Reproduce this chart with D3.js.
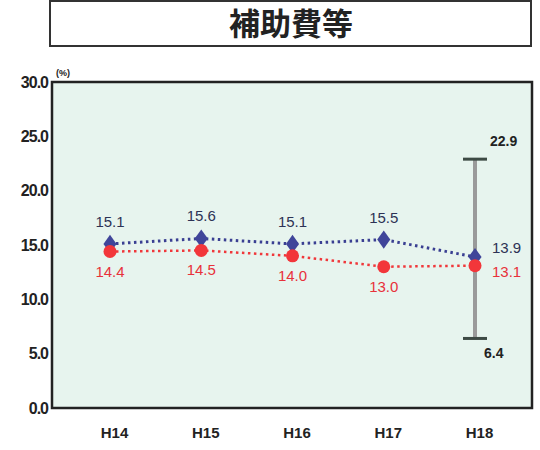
<!DOCTYPE html>
<html><head><meta charset="utf-8">
<script src="https://cdn.jsdelivr.net/npm/d3@7/dist/d3.min.js"></script>
<style>body{margin:0;background:#fff;}svg{display:block;}</style>
</head><body>
<svg id="c" width="540" height="450"></svg>
<script>
const title = "補助費等";
const categories = ["H14","H15","H16","H17","H18"];
const seriesBlue = [15.1, 15.6, 15.1, 15.5, 13.9];
const seriesRed = [14.4, 14.5, 14.0, 13.0, 13.1];
const rangeCategory = "H18";
const rangeValues = [6.4, 22.9];
const yTicks = [0, 5, 10, 15, 20, 25, 30];
const unitLabel = "(%)";

const svg = d3.select("#c");
const font = "Liberation Sans, Arial, sans-serif";
const plot = {left: 52, right: 532, top: 82, bottom: 408};

// title box
svg.append("rect").attr("x", 50).attr("y", 1).attr("width", 481).attr("height", 45)
  .attr("fill", "#fff").attr("stroke", "#333").attr("stroke-width", 2);
svg.append("text").attr("x", 291).attr("y", 35).attr("text-anchor", "middle")
  .attr("font-family", "Noto Sans CJK JP, sans-serif").attr("font-weight", "bold")
  .attr("font-size", 31).attr("fill", "#222").text(title);

const y = d3.scaleLinear().domain([0, 30]).range([plot.bottom, plot.top]);
const x = d3.scalePoint().domain(categories).range([110, 475]);

svg.append("rect").attr("x", plot.left).attr("y", plot.top)
  .attr("width", plot.right - plot.left).attr("height", plot.bottom - plot.top)
  .attr("fill", "#e7f4ee");

// y axis labels
const yAxis = d3.axisLeft(y).tickValues(yTicks).tickFormat(d3.format(".1f")).tickSize(0).tickPadding(4);
const ga = svg.append("g").attr("transform", `translate(${plot.left},0)`).call(yAxis);
ga.select(".domain").remove();
ga.selectAll("text").attr("font-family", font).attr("font-size", 16).attr("font-weight", "bold")
  .attr("fill", "#222").attr("letter-spacing", "-1");

svg.append("text").attr("x", 56).attr("y", 76).attr("font-family", font).attr("font-size", 9)
  .attr("font-weight", "bold").attr("fill", "#222").text(unitLabel);

// x axis labels
const xAxis = d3.axisBottom(x).tickSize(0).tickPadding(19);
const gx = svg.append("g").attr("transform", `translate(0,${plot.bottom})`).call(xAxis);
gx.select(".domain").remove();
gx.selectAll("text").attr("font-family", font).attr("font-size", 15).attr("font-weight", "bold")
  .attr("fill", "#222").attr("dx", 4);

// plot frame
svg.append("rect").attr("x", plot.left).attr("y", plot.top)
  .attr("width", plot.right - plot.left).attr("height", plot.bottom - plot.top)
  .attr("fill", "none").attr("stroke", "#222").attr("stroke-width", 2.5);

// range bar
const rx = x(rangeCategory);
svg.append("line").attr("x1", rx).attr("x2", rx).attr("y1", y(rangeValues[0])).attr("y2", y(rangeValues[1]))
  .attr("stroke", "#9a9a9a").attr("stroke-width", 4);
rangeValues.forEach(v => {
  svg.append("line").attr("x1", rx - 12).attr("x2", rx + 12).attr("y1", y(v)).attr("y2", y(v))
    .attr("stroke", "#3d4a44").attr("stroke-width", 3);
});
svg.append("text").attr("x", rx + 15).attr("y", y(rangeValues[1]) - 13)
  .attr("font-family", font).attr("font-size", 14).attr("font-weight", "bold").attr("fill", "#222")
  .text(rangeValues[1].toFixed(1));
svg.append("text").attr("x", rx + 9).attr("y", y(rangeValues[0]) + 20)
  .attr("font-family", font).attr("font-size", 14).attr("font-weight", "bold").attr("fill", "#222")
  .text(rangeValues[0].toFixed(1));

const line = d3.line().x((d, i) => x(categories[i])).y(d => y(d));

// red series
svg.append("path").datum(seriesRed).attr("d", line).attr("fill", "none")
  .attr("stroke", "#f0373a").attr("stroke-width", 2.5).attr("stroke-dasharray", "2.5,3.5");
// blue series
svg.append("path").datum(seriesBlue).attr("d", line).attr("fill", "none")
  .attr("stroke", "#3a3f92").attr("stroke-width", 3).attr("stroke-dasharray", "2.5,3.5");

svg.selectAll(".bm").data(seriesBlue).enter().append("path")
  .attr("d", d3.symbol(d3.symbolDiamond, 95)())
  .attr("transform", (d, i) => `translate(${x(categories[i])},${y(d)}) scale(1.25,1)`)
  .attr("fill", "#40459a");
svg.selectAll(".rm").data(seriesRed).enter().append("circle")
  .attr("cx", (d, i) => x(categories[i])).attr("cy", d => y(d)).attr("r", 6.5)
  .attr("fill", "#f2363a");

// value labels
const last = categories.length - 1;
svg.selectAll(".bl").data(seriesBlue).enter().append("text")
  .attr("x", (d, i) => i === last ? x(categories[i]) + 17 : x(categories[i]))
  .attr("y", (d, i) => i === last ? y(d) - 4 : y(d) - 17)
  .attr("text-anchor", (d, i) => i === last ? "start" : "middle")
  .attr("font-family", font).attr("font-size", 15).attr("fill", "#2d3255")
  .text(d => d.toFixed(1));
svg.selectAll(".rl").data(seriesRed).enter().append("text")
  .attr("x", (d, i) => i === last ? x(categories[i]) + 17 : x(categories[i]))
  .attr("y", (d, i) => i === last ? y(d) + 11 : y(d) + 25)
  .attr("text-anchor", (d, i) => i === last ? "start" : "middle")
  .attr("font-family", font).attr("font-size", 15).attr("fill", "#e8313a")
  .text(d => d.toFixed(1));
</script>
</body></html>
